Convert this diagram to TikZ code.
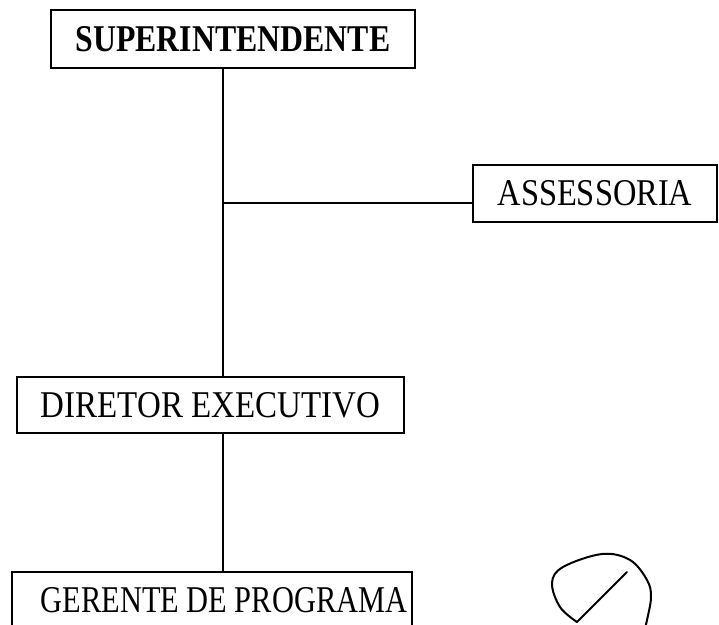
\documentclass[tikz,border=0pt]{standalone}
\usepackage{fontspec}
\setmainfont{Liberation Serif}
\newcommand{\labtxt}[2][1]{\scalebox{#1}[1.2]{#2}}
\begin{document}
\begin{tikzpicture}[x=1pt,y=1pt,
  orgbox/.style={draw, line width=1.8pt, inner sep=0pt, font=\fontsize{31.5}{36}\selectfont},
  conn/.style={line width=1.8pt},
  pen/.style={line width=2pt, line cap=round, line join=round}]
\useasboundingbox (0,0) rectangle (719,624);
\clip (0,0) rectangle (719,624);
\node[orgbox, minimum width=364pt, minimum height=58pt] (sup) at (233,585) {\labtxt[1.01]{\textbf{SUPERINTENDENTE}}};
\node[orgbox, minimum width=244pt, minimum height=57pt] (ass) at (595,430.5) {\labtxt[1.03]{ASSESSORIA}};
\node[orgbox, minimum width=387pt, minimum height=56pt] (dir) at (210.5,219) {\labtxt[1.047]{DIRETOR EXECUTIVO}};
\node[orgbox, minimum width=400pt, minimum height=80pt] (ger) at (212,12) {};
\node[font=\fontsize{31.5}{36}\selectfont, inner sep=0pt] (gertxt) at (224,24) {\labtxt[0.965]{GERENTE DE PROGRAMA}};
\coordinate (j) at (223,421);
\draw[conn] (sup.south -| j) -- (dir.north -| j);
\draw[conn] (j) -- (ass.west |- j);
\draw[conn] (dir.south -| j) -- (ger.north -| j);
\draw[pen] plot[smooth, tension=0.6] coordinates {(577,2) (560,17) (552,41) (563,57) (602,70) (630,64) (647,44) (651,27) (647,4) (644,-8)};
\draw[pen] (627,52) -- (577,2);
\end{tikzpicture}
\end{document}
